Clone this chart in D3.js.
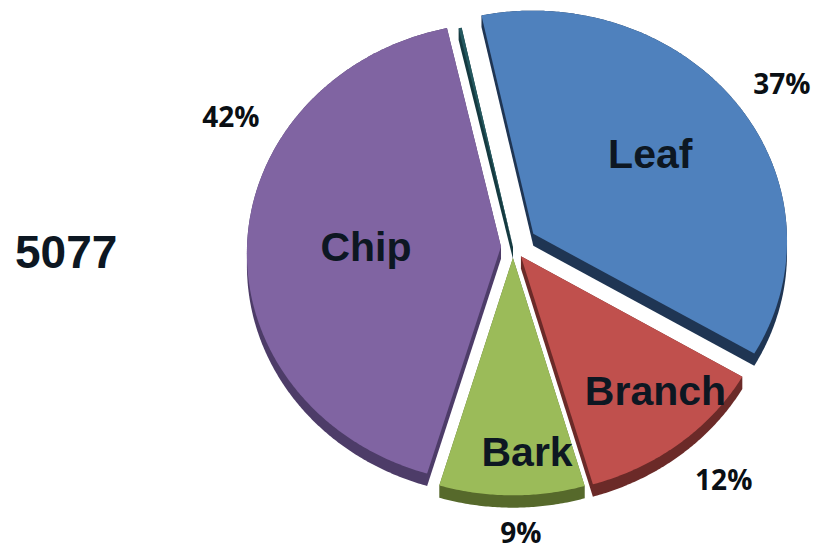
<!DOCTYPE html>
<html>
<head>
<meta charset="utf-8">
<script src="https://cdn.jsdelivr.net/npm/d3@7"></script>
<style>
  html, body { margin: 0; padding: 0; background: #ffffff; }
  svg text { font-family: "Liberation Sans", Arial, Helvetica, sans-serif; font-weight: bold; fill: #0d1722; }
  svg text.pct { font-family: "Open Sans", "Liberation Sans", Arial, sans-serif; font-weight: 700; fill: #0a0f14; }
</style>
</head>
<body>
<svg id="chart" width="819" height="550"></svg>
<script>
// Sample composition by material type
const categories = ["Leaf", "Branch", "Bark", "Chip", "Other"];
const values = [37, 12, 9, 42, 0.2];
const sampleTotal = "5077";

// Face colours and the darker tones of each slice's walls
const topColors = ["#4f81bd", "#c0504d", "#9bbb59", "#8064a2", "#24585f"];
const sideColors = ["#1f3553", "#6b2a28", "#56692b", "#4d3c68", "#153a40"];

// Layout of the tilted, exploded pie
const W = 819, H = 550;
const R = 254;            // disc radius
const cx = 513, cy = 247; // projected centre of the disc
const tilt = 0.907;       // vertical squash of the disc
const persp = 0.028;      // near side slightly larger than far side
const depth = 12;         // wall thickness
const startDeg = -12;     // first slice begins just left of 12 o'clock
const explode = { Leaf: 25, Branch: 13, Bark: 12, Chip: 12, Other: 0 };
// name label: [angle in degrees, radius]; percentage label likewise
const nameAt = { Leaf: [52.7, 149], Branch: [137.6, 196], Bark: [176.2, 208], Chip: [270.3, 135] };
const pctAt  = { Leaf: [56.4, 305], Branch: [140.5, 310], Bark: [178.5, 293], Chip: [297.9, 311] };

const svg = d3.select("#chart");
svg.append("rect").attr("width", W).attr("height", H).attr("fill", "#ffffff");

const rad = Math.PI / 180;
const pie = d3.pie().sort(null).value(d => d.value)
  .startAngle(startDeg * rad).endAngle((startDeg + 360) * rad);

const data = categories.map((c, i) => ({ name: c, value: values[i], top: topColors[i], side: sideColors[i] }));
const arcs = pie(data);
const total = d3.sum(values);
const pct = d3.format(".0%");

// disc plane (X right, Z toward the viewer) -> screen
function project(X, Z, h) {
  const s = 1 + persp * Z / R;
  return [cx + X * s, cy + Z * tilt * s + (h || 0) * s];
}

function offsetOf(d) {
  const m = (d.startAngle + d.endAngle) / 2;
  const e = explode[d.data.name];
  return [e * Math.sin(m), -e * Math.cos(m)];
}

function outline(d) {
  const [ox, oz] = offsetOf(d);
  const pts = [[ox, oz]];
  const span = d.endAngle - d.startAngle;
  const n = Math.max(2, Math.ceil(span / (0.5 * rad)));
  for (let j = 0; j <= n; j++) {
    const a = d.startAngle + span * j / n;
    pts.push([ox + R * Math.sin(a), oz - R * Math.cos(a)]);
  }
  return pts;
}

const line = d3.line().curve(d3.curveLinearClosed);

// draw far slices first so nearer walls and faces sit on top
const order = arcs.slice().sort((a, b) => offsetOf(a)[1] - offsetOf(b)[1]);

const g = svg.append("g");
order.forEach(d => {
  const pts = outline(d);
  const topPts = pts.map(p => project(p[0], p[1], 0));
  const lowPts = pts.map(p => project(p[0], p[1], depth));
  const hull = d3.polygonHull(topPts.concat(lowPts));
  g.append("path").attr("d", line(hull)).attr("fill", d.data.side);
  g.append("path").attr("d", line(topPts)).attr("fill", d.data.top);
});

function labelPoint(d, spec) {
  const [ox, oz] = offsetOf(d);
  const a = spec[0] * rad, r = spec[1];
  return project(ox + r * Math.sin(a), oz - r * Math.cos(a), 0);
}

arcs.forEach(d => {
  const name = d.data.name;
  if (nameAt[name]) {
    const [x, y] = labelPoint(d, nameAt[name]);
    svg.append("text").attr("x", x).attr("y", y).attr("dy", "0.36em")
      .attr("text-anchor", "middle").style("font-size", "41px").text(name);
  }
  if (pctAt[name]) {
    const [x, y] = labelPoint(d, pctAt[name]);
    svg.append("text").attr("class", "pct").attr("x", x).attr("y", y).attr("dy", "0.36em")
      .attr("text-anchor", "middle").style("font-size", "28px").text(pct(d.data.value / total));
  }
});

svg.append("text").attr("x", 15).attr("y", 268)
  .style("font-size", "46px").text(sampleTotal);
</script>
</body>
</html>
